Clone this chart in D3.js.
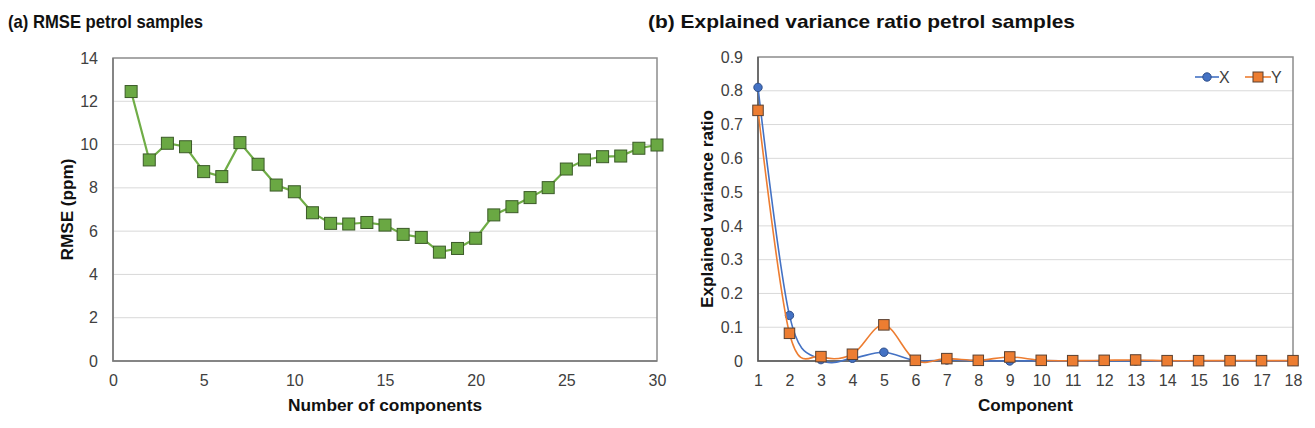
<!DOCTYPE html>
<html>
<head>
<meta charset="utf-8">
<script src="https://cdn.jsdelivr.net/npm/d3@7"></script>
<style>
  body { margin: 0; background: #fff; }
  text { font-family: "Liberation Sans", Arial, sans-serif; }
</style>
</head>
<body>
<div id="chart"></div>
<script>
// data
const components = d3.range(1, 31)
const rmse = [12.45, 9.29, 10.06, 9.9, 8.75, 8.52, 10.09, 9.09, 8.13, 7.82,
              6.85, 6.36, 6.33, 6.4, 6.28, 5.85, 5.71, 5.03, 5.2, 5.67,
              6.75, 7.13, 7.55, 8.01, 8.87, 9.29, 9.44, 9.47, 9.83, 9.98]
const rmseTicks = [0, 2, 4, 6, 8, 10, 12, 14]
const compTicks = [0, 5, 10, 15, 20, 25, 30]

const pcs = d3.range(1, 19)
const evrX = [0.81, 0.135, 0.004, 0.008, 0.026, 0.001, 0.003, 0.001, 0.0, 0.001,
              0.0, 0.0, 0.0, 0.0, 0.0, 0.0, 0.0, 0.0]
const evrY = [0.742, 0.082, 0.013, 0.02, 0.107, 0.002, 0.007, 0.002, 0.012, 0.002,
              0.001, 0.002, 0.003, 0.001, 0.001, 0.001, 0.001, 0.001]
const evrTicks = [0, 0.1, 0.2, 0.3, 0.4, 0.5, 0.6, 0.7, 0.8, 0.9]

const W = 1315, H = 428
const gridColor = '#d9d9d9', frameColor = '#8c8c8c', tickColor = '#404040'
const font = '"Liberation Sans", Arial, sans-serif'

const svg = d3.select('#chart').append('svg')
  .attr('width', W).attr('height', H)
svg.append('rect').attr('width', W).attr('height', H).attr('fill', '#fff')

function frame (g, x0, x1, y0, y1, axisColor) {
  g.append('rect')
    .attr('x', x0).attr('y', y0)
    .attr('width', x1 - x0).attr('height', y1 - y0)
    .attr('fill', 'none').attr('stroke', frameColor).attr('stroke-width', 1.5)
  g.append('path')
    .attr('d', `M${x0},${y0}V${y1}H${x1}`)
    .attr('fill', 'none').attr('stroke', axisColor).attr('stroke-width', 1.5)
}

function styleAxis (g) {
  g.attr('font-size', null).attr('font-family', null)
  g.select('.domain').remove()
  g.selectAll('text').attr('fill', tickColor)
    .style('font-size', '16px').style('font-family', font)
}

function boldText (x, y, str, len, size) {
  const t = svg.append('text').attr('x', x).attr('y', y)
    .style('font-size', size + 'px').style('font-weight', 'bold').style('font-family', font)
    .attr('fill', '#111')
    .text(str)
  if (len) t.attr('textLength', len).attr('lengthAdjust', 'spacingAndGlyphs')
  return t
}

// ---------- (a) RMSE ----------
{
  const x0 = 113, x1 = 657, y0 = 58, y1 = 361
  const xScale = d3.scaleLinear().domain([0, 30]).range([x0, x1])
  const yScale = d3.scaleLinear().domain([0, 14]).range([y1, y0])
  const g = svg.append('g')

  g.append('g').selectAll('line')
    .data(rmseTicks.slice(1, -1)).enter().append('line')
    .attr('x1', x0).attr('x2', x1)
    .attr('y1', d => yScale(d)).attr('y2', d => yScale(d))
    .attr('stroke', gridColor).attr('stroke-width', 1)
  frame(g, x0, x1, y0, y1, '#7a7a7a')

  g.append('g').attr('transform', `translate(${x0 - 7},0)`)
    .call(d3.axisLeft(yScale).tickValues(rmseTicks).tickSize(0).tickPadding(8))
    .call(styleAxis)
  g.append('g').attr('transform', `translate(0,${y1 + 8})`)
    .call(d3.axisBottom(xScale).tickValues(compTicks).tickSize(0).tickPadding(6))
    .call(styleAxis)

  const line = d3.line().x((d, i) => xScale(components[i])).y(d => yScale(d))
  g.append('path').attr('d', line(rmse))
    .attr('fill', 'none').attr('stroke', '#70ad47').attr('stroke-width', 2.2)

  const s = 12
  g.selectAll('.sq').data(rmse).enter().append('rect')
    .attr('x', (d, i) => xScale(components[i]) - s / 2)
    .attr('y', d => yScale(d) - s / 2)
    .attr('width', s).attr('height', s)
    .attr('fill', '#6aa843').attr('stroke', '#3b5a28').attr('stroke-width', 1)

  boldText(8, 28, '(a) RMSE petrol samples', 195, 19)
  boldText((x0 + x1) / 2, 411, 'Number of components', 194, 16).attr('text-anchor', 'middle')
  boldText(0, 0, 'RMSE (ppm)', 102, 17)
    .attr('transform', `translate(73,${(y0 + y1) / 2}) rotate(-90)`)
    .attr('text-anchor', 'middle')
}

// ---------- (b) Explained variance ratio ----------
{
  const x0 = 758, x1 = 1293, y0 = 57, y1 = 361
  const xScale = d3.scaleLinear().domain([1, 18]).range([x0, x1])
  const yScale = d3.scaleLinear().domain([0, 0.9]).range([y1, y0])
  const g = svg.append('g')

  g.append('g').selectAll('line')
    .data(evrTicks.slice(1, -1)).enter().append('line')
    .attr('x1', x0).attr('x2', x1)
    .attr('y1', d => yScale(d)).attr('y2', d => yScale(d))
    .attr('stroke', gridColor).attr('stroke-width', 1)
  frame(g, x0, x1, y0, y1, '#595959')

  g.append('g').attr('transform', `translate(${x0 - 7},0)`)
    .call(d3.axisLeft(yScale).tickValues(evrTicks).tickSize(0).tickPadding(8)
      .tickFormat(d => d === 0 ? '0' : d3.format('.1f')(d)))
    .call(styleAxis)
  g.append('g').attr('transform', `translate(0,${y1 + 8})`)
    .call(d3.axisBottom(xScale).tickValues(pcs).tickSize(0).tickPadding(6))
    .call(styleAxis)

  const line = d3.line().x((d, i) => xScale(pcs[i])).y(d => yScale(d))
    .curve(d3.curveCatmullRom.alpha(0))

  g.append('path').attr('d', line(evrX))
    .attr('fill', 'none').attr('stroke', '#4472c4').attr('stroke-width', 1.6)
  g.selectAll('.dot').data(evrX).enter().append('circle')
    .attr('cx', (d, i) => xScale(pcs[i])).attr('cy', d => yScale(d)).attr('r', 4.2)
    .attr('fill', '#4472c4').attr('stroke', '#2f4f8a').attr('stroke-width', 1)

  g.append('path').attr('d', line(evrY))
    .attr('fill', 'none').attr('stroke', '#ed7d31').attr('stroke-width', 1.6)
  const s = 10.5
  g.selectAll('.sq').data(evrY).enter().append('rect')
    .attr('x', (d, i) => xScale(pcs[i]) - s / 2).attr('y', d => yScale(d) - s / 2)
    .attr('width', s).attr('height', s)
    .attr('fill', '#ed7d31').attr('stroke', '#5a4030').attr('stroke-width', 1)

  // legend
  const lg = svg.append('g').attr('transform', 'translate(0,77)')
  lg.append('line').attr('x1', 1195).attr('x2', 1219).attr('stroke', '#4472c4').attr('stroke-width', 1.6)
  lg.append('circle').attr('cx', 1207).attr('r', 4.2)
    .attr('fill', '#4472c4').attr('stroke', '#2f4f8a')
  lg.append('text').attr('x', 1219).attr('y', 6).attr('fill', tickColor)
    .style('font-size', '16px').text('X')
  lg.append('line').attr('x1', 1245).attr('x2', 1271).attr('stroke', '#ed7d31').attr('stroke-width', 1.6)
  lg.append('rect').attr('x', 1258 - 5).attr('y', -5).attr('width', 10).attr('height', 10)
    .attr('fill', '#ed7d31').attr('stroke', '#5a4030')
  lg.append('text').attr('x', 1271).attr('y', 6).attr('fill', tickColor)
    .style('font-size', '16px').text('Y')

  boldText(648, 28, '(b)  Explained variance ratio petrol samples', 427, 19)
  boldText((x0 + x1) / 2, 411, 'Component', 95, 17).attr('text-anchor', 'middle')
  boldText(0, 0, 'Explained variance ratio', 198, 17)
    .attr('transform', `translate(713,${(y0 + y1) / 2}) rotate(-90)`)
    .attr('text-anchor', 'middle')
}
</script>
</body>
</html>
